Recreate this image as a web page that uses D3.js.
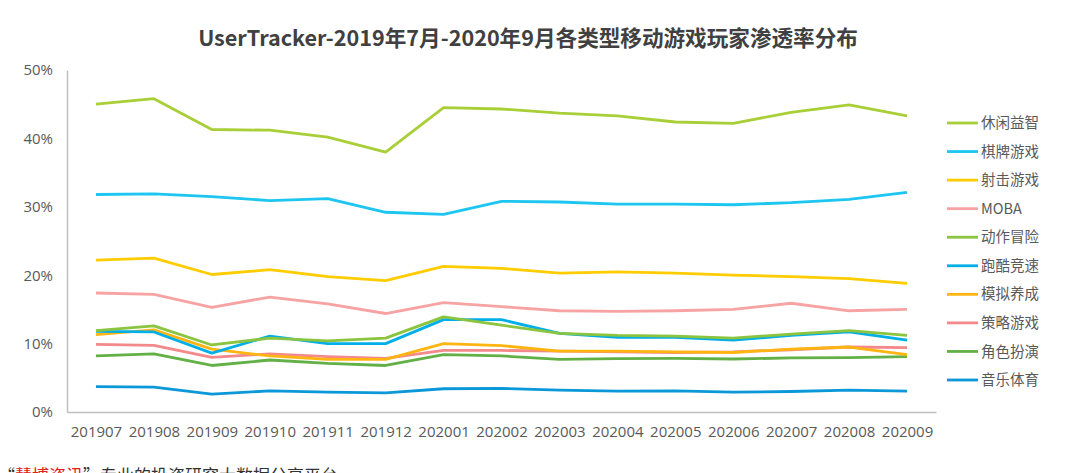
<!DOCTYPE html>
<html><head><meta charset="utf-8">
<script src="https://cdn.jsdelivr.net/npm/d3@7"></script>
<style>
html,body{margin:0;padding:0;background:#fff;overflow:hidden;}
svg{display:block;font-family:"Open Sans","Noto Sans CJK SC",sans-serif;}
</style></head><body>
<svg id="chart" width="1080" height="473"></svg>
<script>
const categories = ["201907","201908","201909","201910","201911","201912","202001","202002","202003","202004","202005","202006","202007","202008","202009"];
const seriesNames = ["休闲益智","棋牌游戏","射击游戏","MOBA","动作冒险","跑酷竞速","模拟养成","策略游戏","角色扮演","音乐体育"];
const seriesColors = ["#a9cf38","#1cc6f0","#ffcc00","#f7a3a3","#8bc43f","#00aee8","#ffb511","#f3898a","#62b046","#0a98d8"];
const xiuxian = [45.0,45.8,41.3,41.2,40.2,38.0,44.5,44.3,43.7,43.3,42.4,42.2,43.8,44.9,43.3];
const qipai   = [31.8,31.9,31.5,30.9,31.2,29.2,28.9,30.8,30.7,30.4,30.4,30.3,30.6,31.1,32.1];
const sheji   = [22.2,22.5,20.1,20.8,19.8,19.2,21.3,21.0,20.3,20.5,20.3,20.0,19.8,19.5,18.8];
const moba    = [17.4,17.2,15.3,16.8,15.8,14.4,16.0,15.4,14.8,14.7,14.8,15.0,15.9,14.8,15.0];
const dongzuo = [11.9,12.6,9.8,10.8,10.4,10.8,13.9,12.7,11.5,11.2,11.1,10.8,11.4,11.9,11.2];
const paoku   = [11.8,11.7,8.6,11.1,10.0,10.0,13.5,13.5,11.5,10.9,10.9,10.5,11.2,11.7,10.5];
const moni    = [11.3,12.0,9.2,8.2,7.7,7.7,10.0,9.7,8.9,8.9,8.8,8.7,9.2,9.5,8.4];
const celue   = [9.9,9.75,8.0,8.5,8.1,7.85,9.0,9.0,8.9,8.8,8.7,8.8,9.1,9.5,9.4];
const juese   = [8.2,8.5,6.8,7.6,7.1,6.8,8.4,8.2,7.7,7.8,7.85,7.75,7.9,7.95,8.1];
const yinyue  = [3.7,3.65,2.6,3.1,2.9,2.8,3.4,3.45,3.2,3.05,3.1,2.9,3.0,3.2,3.05];
const yTicks = [0,10,20,30,40,50];
const titleText = "UserTracker-2019年7月-2020年9月各类型移动游戏玩家渗透率分布";

const seriesValues = [xiuxian,qipai,sheji,moba,dongzuo,paoku,moni,celue,juese,yinyue];
const series = seriesNames.map((n,i)=>({name:n,color:seriesColors[i],values:seriesValues[i]}));

const svg = d3.select("#chart");
const x = d3.scalePoint().domain(categories).range([67,936]).padding(0.5);
const y = d3.scaleLinear().domain([0,50]).range([412,70]);

svg.append("text").attr("x",528).attr("y",46).attr("text-anchor","middle")
  .attr("font-family","'Noto Sans CJK SC',sans-serif").attr("font-weight","bold")
  .attr("font-size",21.6).attr("fill","#404040").text(titleText);

// axes
const yAxis = svg.append("g").attr("transform","translate(67,0)")
  .call(d3.axisLeft(y).tickValues(yTicks).tickFormat(d=>d+"%").tickSize(0).tickPadding(14));
yAxis.select(".domain").attr("stroke","#bfbfbf").attr("stroke-width",1.5);
yAxis.selectAll("text").attr("font-size",15).attr("fill","#595959").attr("font-family","'Open Sans',sans-serif");

const xAxis = svg.append("g").attr("transform","translate(0,412)")
  .call(d3.axisBottom(x).tickSize(0).tickPadding(14));
xAxis.select(".domain").attr("stroke","#bfbfbf").attr("stroke-width",1.5);
xAxis.selectAll("text").attr("font-size",15).attr("fill","#595959").attr("font-family","'Open Sans',sans-serif");

const line = d3.line().x((d,i)=>x(categories[i])).y(d=>y(d));
svg.append("g").selectAll("path").data(series.slice().reverse()).join("path")
  .attr("d",d=>line(d.values)).attr("fill","none").attr("stroke",d=>d.color)
  .attr("stroke-width",2.8).attr("stroke-linejoin","round");

// legend
const lg = svg.append("g");
const ly = d3.scalePoint().domain(seriesNames).range([123,380]);
const items = lg.selectAll("g").data(series).join("g").attr("transform",d=>`translate(947,${ly(d.name)})`);
items.append("line").attr("x1",0).attr("x2",31).attr("stroke",d=>d.color).attr("stroke-width",2.8);
items.append("text").attr("x",34).attr("dy","0.35em").attr("font-size",14.5).attr("fill","#595959")
  .attr("font-family","'Noto Sans CJK SC',sans-serif").text(d=>d.name);

// footer (cropped at the bottom edge, as in the reference)
const ft = svg.append("text").attr("x",-2).attr("y",482).attr("font-size",17)
  .attr("font-family","'Noto Sans CJK SC',sans-serif").attr("fill","#333");
ft.append("tspan").text("“");
ft.append("tspan").attr("fill","#e02020").text("慧博资讯");
ft.append("tspan").text("”专业的投资研究大数据分享平台");
</script></body></html>
